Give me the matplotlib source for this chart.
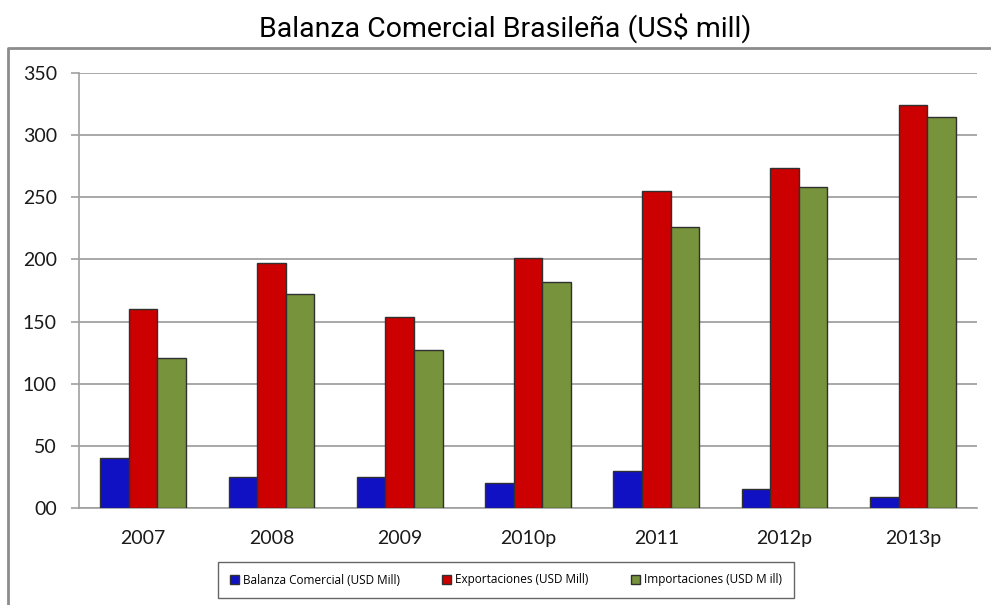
import numpy as np
import matplotlib.pyplot as plt
from matplotlib.lines import Line2D

years = ['2007', '2008', '2009', '2010p', '2011', '2012p', '2013p']
balanza = [40, 25, 25, 20.5, 29.5, 15, 9]
exportaciones = [160.5, 197.5, 153.5, 201.5, 255, 273.5, 324]
importaciones = [120.5, 172.5, 127.5, 181.5, 226, 258.5, 315]

names = ['Balanza Comercial (USD Mill)', 'Exportaciones (USD Mill)', 'Importaciones (USD M ill)']
colors = ['#1111C4', '#CC0000', '#77933C']

fig = plt.figure(figsize=(9.91, 6.05), dpi=100)
ax = fig.add_axes([79/991, 1 - 508/605, (977 - 79)/991, (508 - 73)/605])

# outer chart border (only left and top visible in the picture)
fy = 1 - 48/605
fx = 8/991
fig.lines.append(Line2D([fx, fx, 1.0], [0, fy, fy], transform=fig.transFigure,
                        color='#8c8c8c', linewidth=2))

x = np.arange(len(years))
w = 0.223
for k, vals in enumerate([balanza, exportaciones, importaciones]):
    ax.bar(x + (k - 1)*w, vals, w, color=colors[k], edgecolor='#303030',
           linewidth=1.0, label=names[k], zorder=3)

ax.set_xlim(-0.5, len(years) - 0.5)
ax.set_ylim(0, 350)
ax.set_yticks(np.arange(0, 351, 50))
ax.set_yticklabels(['%02d' % v for v in np.arange(0, 351, 50)])
ax.set_xticks(x)
ax.set_xticklabels(years)

ax.grid(axis='y', color='#9a9a9a', linewidth=1.2, zorder=0)
for s in ['top', 'right']:
    ax.spines[s].set_visible(False)
ax.spines['left'].set_color('#a0a0a0')
ax.spines['bottom'].set_color('#a0a0a0')
ax.spines['left'].set_linewidth(1.2)
ax.spines['bottom'].set_linewidth(1.2)

ax.tick_params(axis='y', length=6, width=1.2, color='#a0a0a0', pad=10,
               labelsize=14, labelcolor='#1a1a1a')
ax.tick_params(axis='x', length=0, pad=16, labelsize=14, labelcolor='#1a1a1a')
for lab in ax.get_xticklabels() + ax.get_yticklabels():
    lab.set_family(['Lato', 'DejaVu Sans'])

fig.text(505/991, 1 - 28/605, 'Balanza Comercial Brasileña (US$ mill)',
         ha='center', va='center', fontsize=20.5,
         family=['Liberation Sans Narrow', 'Roboto', 'DejaVu Sans'])

leg = fig.legend(loc='center', bbox_to_anchor=(506/991, 1 - 580/605), ncol=3,
                 frameon=True, fancybox=False, edgecolor='#404040',
                 handlelength=0.75, handleheight=0.75, handletextpad=0.35,
                 columnspacing=3.6, borderpad=1.0, borderaxespad=0,
                 prop={'family': ['Open Sans', 'DejaVu Sans'], 'size': 8.5})
leg.get_frame().set_linewidth(1.0)

fig.savefig('out.png', dpi=100)
